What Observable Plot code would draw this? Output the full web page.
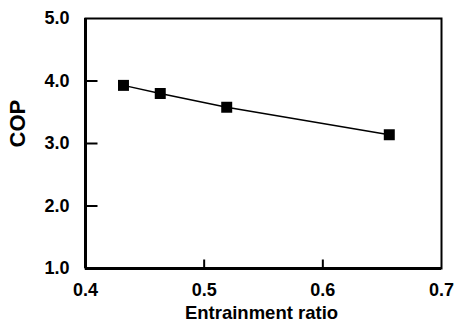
<!DOCTYPE html>
<html>
<head>
<meta charset="utf-8">
<script src="https://cdn.jsdelivr.net/npm/d3@7"></script>
<script src="https://cdn.jsdelivr.net/npm/@observablehq/plot@0.6"></script>
<style>
  html, body { margin: 0; padding: 0; background: #fff; }
  svg { font-family: "Liberation Sans", Arial, sans-serif; }
</style>
</head>
<body>
<div id="chart"></div>
<script>
const entrainmentRatio = [0.432, 0.463, 0.519, 0.656];
const cop = [3.93, 3.80, 3.58, 3.14];
const xTicks = [0.4, 0.5, 0.6, 0.7];
const yTicks = [1, 2, 3, 4, 5];
const xLabel = "Entrainment ratio";
const yLabel = "COP";

const data = entrainmentRatio.map((x, i) => ({x, y: cop[i]}));

const W = 458, H = 331, ML = 85, MR = 17, MT = 18, MB = 63;
const frameW = W - ML - MR, frameH = H - MT - MB;
const xDomain = [xTicks[0], xTicks[xTicks.length - 1]];
const yDomain = [yTicks[0], yTicks[yTicks.length - 1]];
const yTickLen = 12, xTickLen = 9;
// convert pixel tick lengths into data units
const yTickDx = yTickLen / frameW * (xDomain[1] - xDomain[0]);
const xTickDy = xTickLen / frameH * (yDomain[1] - yDomain[0]);

const yInner = yTicks.slice(1, -1);
const xInner = xTicks.slice(1, -1);

const chart = Plot.plot({
  width: W,
  height: H,
  marginLeft: ML,
  marginRight: MR,
  marginTop: MT,
  marginBottom: MB,
  style: {fontFamily: "Liberation Sans, Arial, sans-serif", color: "#000", background: "#fff"},
  x: {domain: xDomain},
  y: {domain: yDomain},
  marks: [
    Plot.frame({stroke: "#000", strokeWidth: 2}),
    Plot.ruleX([xDomain[0]], {stroke: "#000", strokeWidth: 3}),
    Plot.ruleY([yDomain[0]], {stroke: "#000", strokeWidth: 3}),
    Plot.link(yInner, {x1: () => xDomain[0], x2: () => xDomain[0] + yTickDx, y1: d => d, y2: d => d, stroke: "#000", strokeWidth: 2}),
    Plot.link(xInner, {x1: d => d, x2: d => d, y1: () => yDomain[0], y2: () => yDomain[0] + xTickDy, stroke: "#000", strokeWidth: 2}),
    Plot.axisY(yTicks, {tickSize: 0, tickPadding: 16, tickFormat: d3.format(".1f"), label: null, fontSize: 18, fontWeight: "bold"}),
    Plot.axisX(xTicks, {tickSize: 0, tickPadding: 15, tickFormat: d3.format(".1f"), label: null, fontSize: 18, fontWeight: "bold"}),
    Plot.text([xLabel], {frameAnchor: "bottom", dy: 50, dx: -2, fontSize: 18.5, fontWeight: "bold"}),
    Plot.text([yLabel], {frameAnchor: "left", dx: -67.5, dy: 4, rotate: -90, fontSize: 22, fontWeight: "bold"}),
    Plot.line(data, {x: "x", y: "y", stroke: "#000", strokeWidth: 1.5}),
    Plot.dot(data, {x: "x", y: "y", symbol: "square", r: 6.2, fill: "#000", stroke: "none"})
  ]
});
document.getElementById("chart").appendChild(chart);
</script>
</body>
</html>
